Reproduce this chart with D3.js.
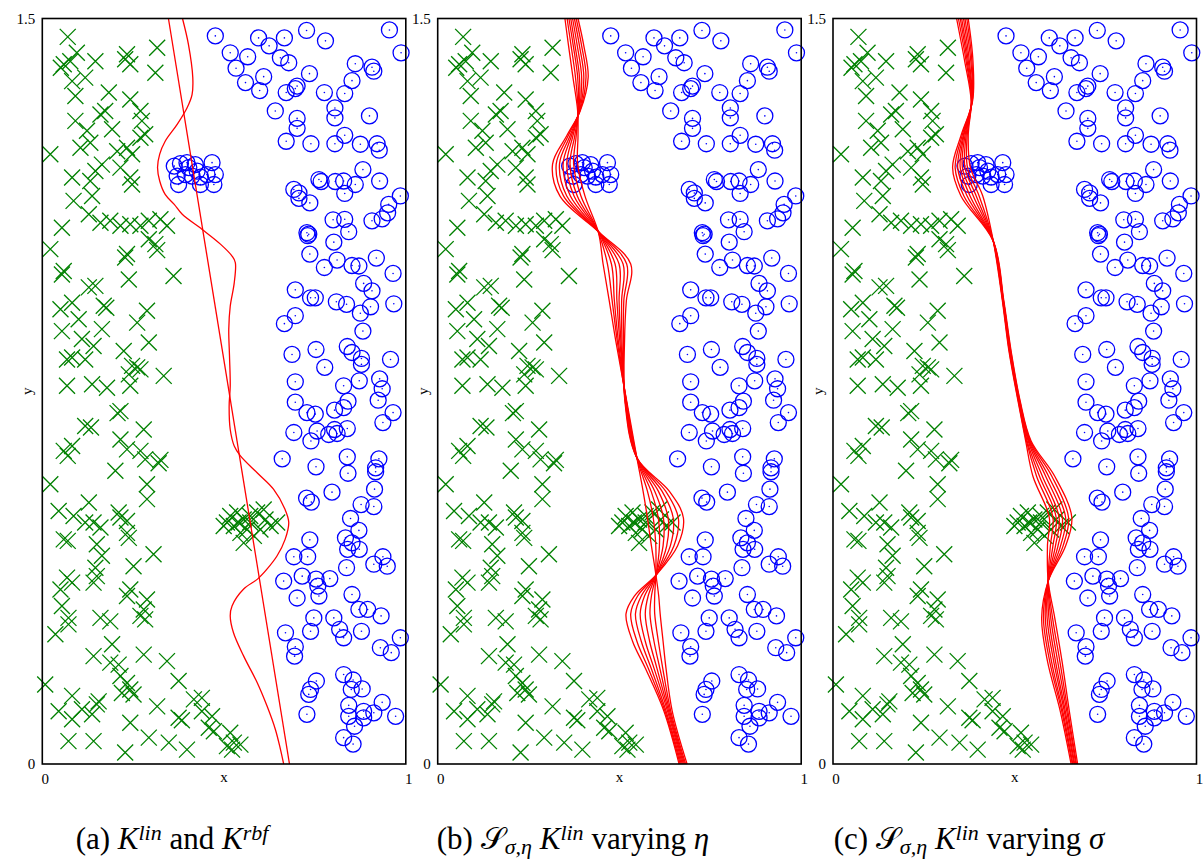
<!DOCTYPE html>
<html><head><meta charset="utf-8">
<script src="https://cdn.jsdelivr.net/npm/d3@7"></script>
<style>body{margin:0;background:#fff} svg{display:block}</style>
</head><body>
<svg id="fig" width="1204" height="862"></svg>
<script>
// Class -1 samples (green crosses), [x, y]
const classNeg = [
[0.070,1.463],[0.095,1.431],[0.059,1.408],[0.077,1.414],[0.051,1.401],[0.146,1.414],[0.233,1.428],[0.242,1.408],[0.228,1.418],[0.316,1.441],
[0.311,1.391],[0.082,1.374],[0.118,1.381],[0.091,1.344],[0.183,1.351],[0.242,1.337],[0.173,1.314],[0.160,1.307],[0.270,1.314],[0.091,1.294],
[0.123,1.274],[0.192,1.277],[0.274,1.294],[0.283,1.267],[0.270,1.260],[0.022,1.227],[0.105,1.240],[0.132,1.250],[0.206,1.233],[0.233,1.240],
[0.247,1.227],[0.164,1.206],[0.146,1.193],[0.215,1.200],[0.082,1.180],[0.132,1.173],[0.242,1.180],[0.247,1.166],[0.086,1.133],[0.137,1.143],
[0.128,1.106],[0.160,1.089],[0.187,1.093],[0.215,1.083],[0.242,1.086],[0.270,1.083],[0.293,1.093],[0.325,1.096],[0.343,1.083],[0.054,1.079],
[0.022,1.036],[0.233,1.026],[0.228,1.019],[0.311,1.046],[0.316,1.034],[0.293,1.056],[0.054,0.985],[0.059,0.992],[0.238,0.975],[0.361,0.982],
[0.128,0.959],[0.146,0.962],[0.050,0.915],[0.082,0.928],[0.169,0.922],[0.176,0.918],[0.288,0.912],[0.100,0.895],[0.261,0.888],[0.054,0.871],
[0.164,0.875],[0.109,0.855],[0.141,0.841],[0.293,0.848],[0.224,0.831],[0.068,0.814],[0.082,0.818],[0.118,0.814],[0.247,0.801],[0.261,0.798],
[0.238,0.784],[0.270,0.794],[0.334,0.781],[0.068,0.761],[0.137,0.764],[0.178,0.757],[0.242,0.761],
[0.215,0.710],[0.207,0.706],[0.118,0.680],[0.134,0.677],[0.059,0.630],[0.070,0.620],[0.082,0.640],[0.215,0.653],[0.233,0.633],[0.279,0.673],
[0.270,0.630],[0.283,0.613],[0.325,0.612],[0.320,0.605],[0.201,0.590],[0.022,0.563],[0.288,0.563],[0.288,0.533],[0.128,0.526],[0.045,0.509],
[0.086,0.499],[0.210,0.506],[0.215,0.496],[0.233,0.489],[0.118,0.486],[0.141,0.486],[0.160,0.476],[0.059,0.452],[0.070,0.449],[0.150,0.442],
[0.164,0.419],[0.233,0.465],[0.238,0.455],[0.306,0.422],[0.251,0.398],[0.146,0.395],[0.068,0.375],[0.150,0.378],
[0.517,0.499],[0.536,0.506],[0.554,0.492],[0.572,0.486],[0.591,0.506],[0.609,0.512],[0.628,0.479],[0.527,0.479],[0.545,0.465],[0.563,0.472],
[0.582,0.459],[0.600,0.472],[0.508,0.486],[0.614,0.492],[0.554,0.445],[0.572,0.499],[0.540,0.486],[0.499,0.479],[0.646,0.486],
[0.050,0.351],[0.082,0.365],[0.141,0.365],[0.242,0.351],[0.233,0.338],[0.288,0.331],[0.279,0.311],[0.054,0.318],[0.072,0.294],[0.072,0.281],
[0.036,0.261],[0.160,0.294],[0.187,0.287],[0.270,0.298],[0.283,0.291],[0.192,0.241],[0.141,0.217],[0.187,0.204],[0.210,0.200],[0.279,0.220],
[0.343,0.207],[0.008,0.160],[0.215,0.177],[0.233,0.163],[0.242,0.150],[0.219,0.143],[0.251,0.140],[0.375,0.167],[0.082,0.137],[0.045,0.106],
[0.082,0.090],[0.109,0.110],[0.137,0.100],[0.155,0.126],[0.150,0.120],[0.316,0.116],[0.242,0.083],[0.375,0.093],[0.384,0.088],[0.417,0.130],
[0.439,0.133],[0.439,0.106],[0.467,0.096],[0.458,0.073],[0.472,0.066],[0.517,0.063],[0.508,0.036],[0.527,0.043],[0.545,0.039],[0.522,0.029],
[0.072,0.046],[0.141,0.046],[0.228,0.023],[0.293,0.053],[0.348,0.043],[0.398,0.029]
];

// Class +1 samples (blue circles), [x, y]
const classPos = [
[0.476,1.465],[0.595,1.461],[0.666,1.461],[0.727,1.476],[0.779,1.455],[0.955,1.477],[0.987,1.431],[0.517,1.431],[0.565,1.423],[0.624,1.445],
[0.655,1.421],[0.678,1.411],[0.533,1.400],[0.609,1.383],[0.735,1.389],[0.861,1.409],[0.907,1.402],[0.912,1.394],[0.559,1.371],[0.598,1.355],
[0.671,1.351],[0.701,1.364],[0.696,1.359],[0.776,1.351],[0.832,1.349],[0.852,1.375],[0.641,1.314],[0.701,1.299],[0.701,1.279],[0.805,1.320],
[0.805,1.300],[0.900,1.304],[0.671,1.253],[0.739,1.248],[0.805,1.248],[0.832,1.265],[0.875,1.247],[0.921,1.248],[0.927,1.235],
[0.363,1.203],[0.380,1.208],[0.398,1.210],[0.421,1.206],[0.467,1.210],[0.371,1.183],[0.394,1.186],[0.412,1.183],[0.435,1.181],[0.453,1.186],
[0.476,1.186],[0.375,1.166],[0.435,1.166],[0.472,1.166],[0.426,1.193],[0.403,1.200],
[0.882,1.196],[0.928,1.173],[0.761,1.176],[0.767,1.172],[0.806,1.172],[0.829,1.173],[0.832,1.148],[0.861,1.166],[0.692,1.156],[0.706,1.149],
[0.706,1.138],[0.736,1.129],[0.985,1.143],[0.953,1.126],
[0.800,1.095],[0.832,1.096],[0.843,1.071],[0.907,1.093],[0.935,1.097],[0.950,1.109],[0.728,1.069],[0.733,1.066],[0.730,1.063],[0.802,1.050],
[0.736,1.026],[0.776,0.999],[0.811,1.014],[0.852,1.003],[0.871,1.002],[0.919,1.018],[0.965,0.987],[0.696,0.954],[0.738,0.938],[0.751,0.938],
[0.809,0.930],[0.837,0.925],[0.875,0.907],[0.903,0.920],[0.884,0.967],[0.907,0.952],[0.967,0.926],[0.666,0.886],[0.696,0.902],[0.882,0.871],
[0.687,0.824],[0.753,0.834],[0.839,0.840],[0.852,0.828],[0.878,0.816],[0.878,0.804],[0.777,0.798],[0.958,0.814],[0.696,0.769],[0.829,0.761],
[0.872,0.771],[0.928,0.775],[0.935,0.755],
[0.696,0.728],[0.728,0.707],[0.751,0.704],[0.804,0.712],[0.829,0.717],[0.841,0.730],[0.924,0.732],[0.965,0.707],[0.937,0.687],[0.692,0.667],
[0.739,0.650],[0.756,0.670],[0.788,0.663],[0.804,0.673],[0.811,0.665],[0.839,0.675],[0.660,0.614],[0.753,0.598],[0.839,0.618],[0.841,0.585],
[0.926,0.614],[0.917,0.596],[0.917,0.588],[0.797,0.547],[0.727,0.535],[0.740,0.527],[0.914,0.553],[0.877,0.522],[0.912,0.518],[0.848,0.494],
[0.871,0.470],[0.736,0.451],[0.834,0.455],[0.852,0.445],[0.840,0.432],[0.872,0.432],[0.692,0.417],[0.730,0.417],[0.837,0.395],[0.912,0.402],
[0.937,0.417],[0.949,0.398],[0.664,0.368],[0.715,0.378],[0.753,0.372],[0.791,0.373],
[0.758,0.358],[0.761,0.338],[0.701,0.334],[0.852,0.341],[0.871,0.311],[0.895,0.311],[0.932,0.298],[0.747,0.294],[0.802,0.294],[0.738,0.267],
[0.818,0.271],[0.829,0.254],[0.878,0.267],[0.669,0.264],[0.696,0.236],[0.694,0.217],[0.930,0.234],[0.960,0.224],[0.985,0.254],[0.829,0.180],
[0.754,0.167],[0.855,0.169],[0.880,0.151],[0.850,0.150],[0.738,0.150],[0.733,0.140],[0.935,0.124],[0.843,0.118],[0.884,0.106],[0.912,0.103],
[0.884,0.093],[0.843,0.096],[0.859,0.076],[0.972,0.096],[0.728,0.100],[0.829,0.053],[0.855,0.040]
];

// Linear-kernel decision boundary, [x, y]
const linBoundary = [[0.347,1.5],[0.680,0]];

// RBF-kernel decision boundary, [x, y]
const rbfBoundary = [
[0.386,1.499],[0.402,1.448],[0.414,1.381],[0.412,1.347],[0.398,1.320],[0.371,1.287],[0.338,1.253],[0.323,1.227],[0.317,1.200],[0.323,1.173],
[0.338,1.146],[0.363,1.126],[0.385,1.106],[0.439,1.076],[0.490,1.046],[0.522,1.022],[0.531,1.009],[0.528,0.968],[0.517,0.921],[0.513,0.875],
[0.515,0.821],[0.517,0.761],[0.514,0.720],[0.517,0.673],[0.528,0.640],[0.545,0.620],[0.591,0.586],[0.636,0.553],[0.668,0.512],[0.678,0.486],
[0.668,0.452],[0.646,0.419],[0.618,0.392],[0.592,0.372],[0.554,0.352],[0.522,0.318],[0.517,0.298],[0.526,0.264],[0.554,0.217],[0.591,0.164],
[0.618,0.117],[0.641,0.070],[0.655,0.030],[0.664,0.0]
];

// Smoothed boundaries for several eta values: y levels and x of each curve at them
const etaLevels = [1.5,1.445,1.382,1.314,1.264,1.207,1.143,1.070,1.006,0.932,0.851,0.730,0.616,0.549,0.495,0.439,0.382,0.338,0.302,0.247,0.193,0.107,0.0];
const etaCurves = [
[0.386,0.402,0.414,0.392,0.355,0.316,0.336,0.444,0.531,0.519,0.514,0.515,0.548,0.637,0.676,0.660,0.603,0.541,0.518,0.536,0.571,0.622,0.664],
[0.381,0.396,0.408,0.391,0.359,0.326,0.346,0.444,0.520,0.512,0.511,0.516,0.548,0.627,0.662,0.650,0.603,0.550,0.531,0.548,0.579,0.625,0.667],
[0.376,0.390,0.402,0.390,0.364,0.335,0.355,0.443,0.510,0.506,0.507,0.516,0.548,0.617,0.648,0.640,0.602,0.560,0.544,0.560,0.587,0.628,0.670],
[0.371,0.384,0.396,0.389,0.368,0.345,0.365,0.443,0.499,0.499,0.504,0.517,0.548,0.607,0.634,0.630,0.602,0.569,0.557,0.571,0.595,0.632,0.673],
[0.366,0.378,0.390,0.388,0.372,0.355,0.375,0.443,0.488,0.493,0.501,0.518,0.548,0.597,0.621,0.620,0.601,0.579,0.571,0.583,0.603,0.635,0.676],
[0.361,0.373,0.385,0.387,0.377,0.364,0.384,0.443,0.478,0.486,0.497,0.519,0.548,0.587,0.607,0.610,0.601,0.588,0.584,0.595,0.611,0.638,0.679],
[0.356,0.367,0.379,0.386,0.381,0.374,0.394,0.442,0.467,0.480,0.494,0.519,0.548,0.577,0.593,0.600,0.600,0.597,0.597,0.607,0.619,0.641,0.682],
[0.350,0.360,0.372,0.385,0.386,0.385,0.405,0.442,0.455,0.472,0.490,0.520,0.548,0.565,0.577,0.588,0.600,0.608,0.612,0.620,0.628,0.645,0.686]
];

// Smoothed boundaries for several sigma values
const sigmaLevels = [1.5,1.415,1.334,1.264,1.200,1.143,1.052,0.932,0.831,0.730,0.650,0.579,0.496,0.439,0.368,0.294,0.207,0.107,0.0];
const sigmaCurves = [
[0.372,0.385,0.384,0.352,0.329,0.352,0.441,0.470,0.490,0.515,0.545,0.610,0.657,0.640,0.592,0.574,0.590,0.625,0.655],
[0.368,0.382,0.383,0.355,0.336,0.360,0.441,0.469,0.489,0.514,0.543,0.602,0.648,0.633,0.592,0.579,0.596,0.629,0.658],
[0.363,0.379,0.383,0.358,0.343,0.369,0.441,0.469,0.488,0.513,0.541,0.593,0.640,0.626,0.592,0.584,0.601,0.632,0.660],
[0.359,0.375,0.382,0.360,0.350,0.377,0.441,0.468,0.487,0.512,0.539,0.585,0.631,0.619,0.592,0.589,0.607,0.636,0.663],
[0.354,0.372,0.382,0.363,0.356,0.386,0.441,0.468,0.487,0.512,0.537,0.576,0.622,0.612,0.592,0.594,0.612,0.639,0.665],
[0.350,0.369,0.381,0.366,0.363,0.394,0.441,0.467,0.486,0.511,0.534,0.568,0.614,0.605,0.592,0.599,0.618,0.643,0.668],
[0.345,0.366,0.381,0.369,0.370,0.402,0.441,0.467,0.485,0.510,0.532,0.560,0.605,0.598,0.592,0.604,0.624,0.646,0.670],
[0.340,0.362,0.380,0.372,0.378,0.412,0.441,0.466,0.484,0.509,0.530,0.550,0.595,0.590,0.592,0.610,0.630,0.650,0.673]
];

const xTicks = [0, 1];
const yTicks = [0, 1.5];

const svg = d3.select("#fig");
const serif = "'Liberation Serif','Times New Roman',serif";
const plotW = 363.5, plotTop = 18.5, plotBottom = 764;
const panels = [
  { left: 42.3, lines: [linBoundary, rbfBoundary] },
  { left: 437.7, lines: etaCurves.map(c => c.map((x, i) => [x, etaLevels[i]])) },
  { left: 833.0, lines: sigmaCurves.map(c => c.map((x, i) => [x, sigmaLevels[i]])) }
];

panels.forEach(p => {
  const x = d3.scaleLinear().domain([0, 1]).range([p.left, p.left + plotW]);
  const y = d3.scaleLinear().domain([0, 1.5]).range([plotBottom, plotTop]);
  const g = svg.append("g");

  // crosses
  const s = 8;
  g.append("g").selectAll("path").data(classNeg).join("path")
    .attr("d", d => {
      const cx = x(d[0]), cy = y(d[1]);
      return `M${cx-s},${cy-s}L${cx+s},${cy+s}M${cx-s},${cy+s}L${cx+s},${cy-s}`;
    })
    .attr("stroke", "#008000").attr("stroke-width", 1.3).attr("fill", "none");

  // circles with centre dot
  const cg = g.append("g");
  cg.selectAll("circle.o").data(classPos).join("circle").attr("class", "o")
    .attr("cx", d => x(d[0])).attr("cy", d => y(d[1])).attr("r", 8)
    .attr("fill", "none").attr("stroke", "#0000ff").attr("stroke-width", 1.3);
  cg.selectAll("circle.c").data(classPos).join("circle").attr("class", "c")
    .attr("cx", d => x(d[0])).attr("cy", d => y(d[1])).attr("r", 0.8)
    .attr("fill", "#0000ff");

  // decision boundaries
  const line = d3.line().x(d => x(d[0])).y(d => y(d[1])).curve(d3.curveCatmullRom.alpha(0.5));
  g.append("g").selectAll("path").data(p.lines).join("path")
    .attr("d", line).attr("fill", "none").attr("stroke", "#ff0000").attr("stroke-width", 1.3);

  // frame
  g.append("rect").attr("x", x(0)).attr("y", y(1.5)).attr("width", x(1) - x(0)).attr("height", y(0) - y(1.5))
    .attr("fill", "none").attr("stroke", "#000").attr("stroke-width", 1.6);

  // axes (labels only)
  const ya = g.append("g").attr("transform", `translate(${x(0)},0)`)
    .call(d3.axisLeft(y).tickValues(yTicks).tickSize(0).tickPadding(7).tickFormat(d3.format("")));
  const xa = g.append("g").attr("transform", `translate(0,${y(0)})`)
    .call(d3.axisBottom(x).tickValues(xTicks).tickSize(0).tickPadding(9).tickFormat(d3.format("")));
  [ya, xa].forEach(a => {
    a.select(".domain").remove();
    a.selectAll("text").attr("font-family", serif).attr("font-size", 15).attr("fill", "#000");
  });
  xa.selectAll(".tick").attr("transform", d => `translate(${x(d) + 3},0)`);

  g.append("text").attr("x", (x(0) + x(1)) / 2).attr("y", 782).attr("text-anchor", "middle")
    .attr("font-family", serif).attr("font-size", 15).text("x");
  g.append("text").attr("transform", `translate(${x(0) - 10},${(y(0) + y(1.5)) / 2}) rotate(-90)`)
    .attr("text-anchor", "middle").attr("font-family", serif).attr("font-size", 15).text("y");
});

// sub-captions
function caption(cx, parts) {
  const t = svg.append("text").attr("x", cx).attr("y", 849).attr("text-anchor", "middle")
    .attr("font-family", serif).attr("font-size", 31).attr("fill", "#000");
  parts.forEach(([txt, kind]) => {
    const ts = t.append("tspan").text(txt);
    if (kind === "i") ts.attr("font-style", "italic");
    if (kind === "sup") ts.attr("font-style", "italic").attr("font-size", 22).attr("baseline-shift", "42%");
    if (kind === "sub") ts.attr("font-style", "italic").attr("font-size", 22).attr("baseline-shift", "-22%");
  });
}
caption(172, [["(a) ", ""], ["K", "i"], ["lin", "sup"], [" and ", ""], ["K", "i"], ["rbf", "sup"]]);
caption(573, [["(b) ", ""], ["𝒮", ""], ["σ,η", "sub"], [" ", ""], ["K", "i"], ["lin", "sup"], [" varying ", ""], ["η", "i"]]);
caption(969, [["(c) ", ""], ["𝒮", ""], ["σ,η", "sub"], [" ", ""], ["K", "i"], ["lin", "sup"], [" varying ", ""], ["σ", "i"]]);
</script>
</body></html>
